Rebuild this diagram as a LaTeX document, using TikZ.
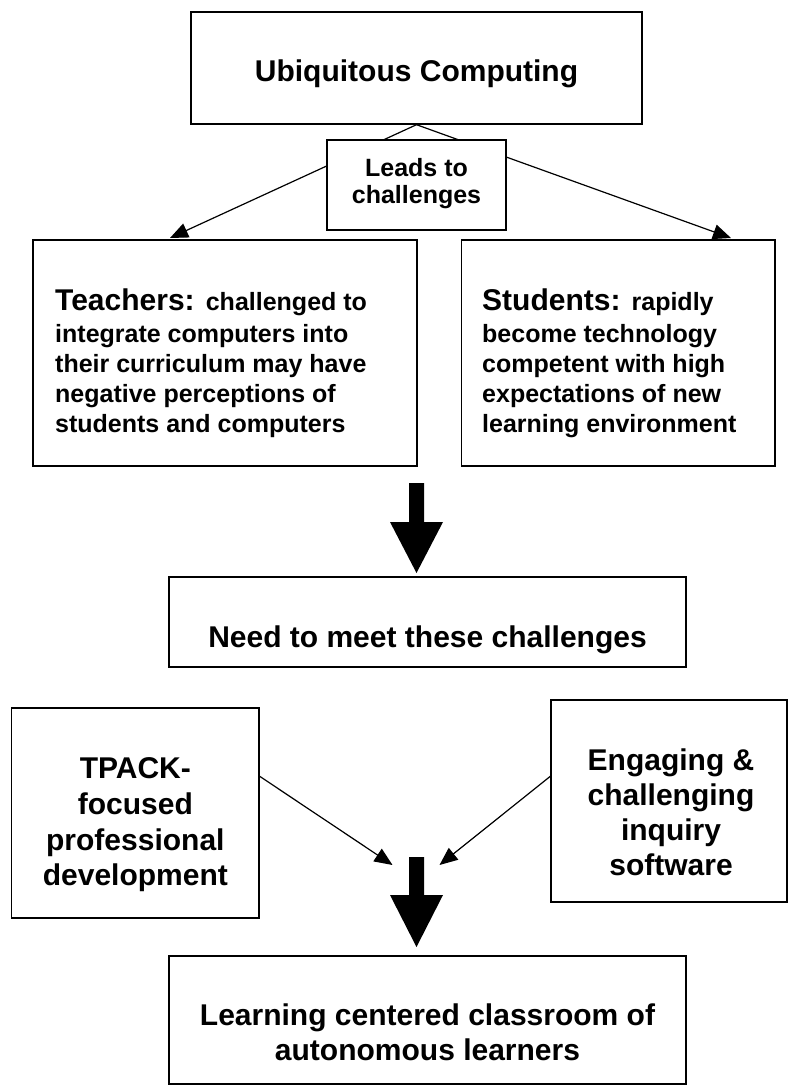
\documentclass[tikz,border=0pt]{standalone}
\usepackage{fontspec}
\setmainfont{Liberation Sans}
\usetikzlibrary{arrows.meta,calc}
\begin{document}
\begin{tikzpicture}[x=1pt,y=-1pt,
  box/.style={draw, line width=1.4pt, inner sep=0pt, fill=white},
  big/.style={font=\fontsize{30}{36}\selectfont\bfseries, inner sep=0pt, anchor=base},
  bigl/.style={font=\fontsize{30}{36}\selectfont\bfseries, inner sep=0pt, anchor=base west},
  small/.style={font=\fontsize{25}{30}\selectfont\bfseries, inner sep=0pt, anchor=base},
  smalll/.style={font=\fontsize{25}{30}\selectfont\bfseries, inner sep=0pt, anchor=base west},
  conn/.style={line width=1.2pt, -{Triangle[length=18pt,width=15pt]}},
  block/.style={fill=black, draw=none}]
\useasboundingbox[fill=white] (0,0) rectangle (789,1086);

% boxes
\node[box, minimum width=451pt, minimum height=112pt] (ubi) at (416.5,68) {};
\node[box, minimum width=384pt, minimum height=226pt] (teach) at (225,353) {};
\node[box, minimum width=313.5pt, minimum height=226pt] (stud) at (618.25,353) {};

% connectors from the top box
\coordinate (tl) at (170,238);
\coordinate (tr) at (731,238);
\draw[conn] (ubi.south) -- (tl);
\draw[conn] (ubi.south) -- (tr);

\node[box, minimum width=179pt, minimum height=90pt] (leads) at (416.5,185) {};
\node[box, minimum width=517pt, minimum height=90pt] (need) at (427.5,622) {};
\node[box, minimum width=247.3pt, minimum height=210pt] (tpack) at (135.35,813) {};
\node[box, minimum width=236pt, minimum height=202pt] (eng) at (669,801) {};
\node[box, minimum width=517pt, minimum height=128pt] (learn) at (427.5,1020) {};

% texts
\node[big] (ubitxt) at (416.5,82) {Ubiquitous Computing};
\node[small] (lt1) at (416.5,177) {Leads to};
\node[small] (lt2) at (416.5,204) {challenges};

\node[bigl] (tt1) at (55,310) {Teachers: {\fontsize{25}{30}\selectfont challenged to}};
\node[smalll] (tt2) at (55,342) {integrate computers into};
\node[smalll] (tt3) at (55,372) {their curriculum may have};
\node[smalll] (tt4) at (55,402) {negative perceptions of};
\node[smalll] (tt5) at (55,432) {students and computers};

\node[bigl] (st1) at (482,310) {Students: {\fontsize{25}{30}\selectfont rapidly}};
\node[smalll] (st2) at (482,342) {become technology};
\node[smalll] (st3) at (482,372) {competent with high};
\node[smalll] (st4) at (482,402) {expectations of new};
\node[smalll] (st5) at (482,432) {learning environment};

\node[big] (needtxt) at (427.5,647) {Need to meet these challenges};

\node[big] (pt1) at (135.35,778) {TPACK-};
\node[big] (pt2) at (135.35,814) {focused};
\node[big] (pt3) at (135.35,850) {professional};
\node[big] (pt4) at (135.35,885) {development};

\node[big] (et1) at (671,770) {Engaging \&};
\node[big] (et2) at (671,805) {challenging};
\node[big] (et3) at (671,840) {inquiry};
\node[big] (et4) at (671,875) {software};

\node[big] (lr1) at (427.5,1025) {Learning centered classroom of};
\node[big] (lr2) at (427.5,1060) {autonomous learners};

% block arrows
\fill[block] (409,483) -- (424,483) -- (424,522) -- (443,522) -- (416.5,573)
  -- (390,522) -- (409,522) -- cycle;
\fill[block] (409,857) -- (424,857) -- (424,895) -- (443,895) -- (416.5,947)
  -- (390,895) -- (409,895) -- cycle;

% converging arrows
\coordinate (cl) at (392.5,865);
\coordinate (cr) at (439.5,865);
\draw[conn] ([yshift=-69pt]tpack.north east) -- (cl);
\draw[conn] ([yshift=-77pt]eng.north west) -- (cr);
\end{tikzpicture}
\end{document}
